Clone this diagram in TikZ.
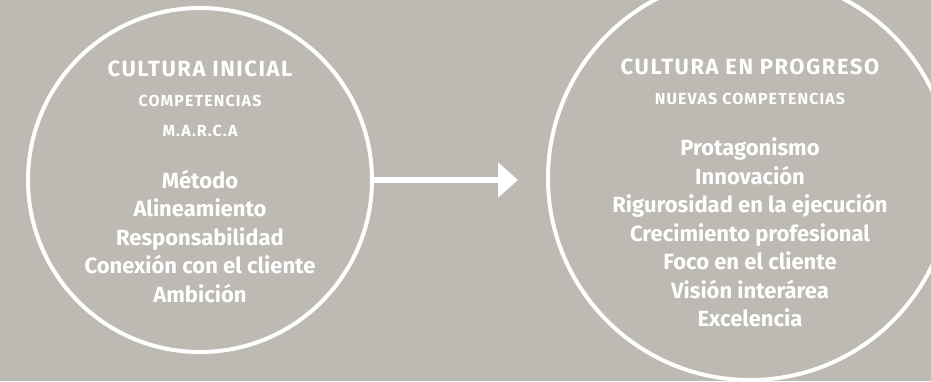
\documentclass[tikz,border=0pt]{standalone}
\usepackage{fontspec}
\setmainfont{Fira Sans}
\usetikzlibrary{arrows.meta}
\definecolor{fondo}{RGB}{189,185,179}
\tikzset{
	anillo/.style={draw=white, line width=4pt, circle, inner sep=0pt, minimum size=#1},
	titulo/.style={anchor=base, text=white, font=\fontsize{22}{22}\selectfont\bfseries\addfontfeature{LetterSpace=7}},
	subtitulo/.style={anchor=base, text=white, font=\fontsize{16}{16}\selectfont\bfseries\addfontfeature{LetterSpace=7}},
	item/.style={anchor=base, text=white, font=\fontsize{22}{22}\selectfont\bfseries}
}

\begin{document}
\begin{tikzpicture}[x=1pt,y=-1pt]
	% Fondo
	\fill[fondo] (0,0) rectangle (931,381);
	\useasboundingbox (0,0) rectangle (931,381);

	% Circulos
	\node[anillo=344pt] (inicial) at (200,180) {};
	\node[anillo=404pt] (progreso) at (750,178) {};

	% Cultura inicial
	\node[titulo] (tini) at (200,76) {CULTURA INICIAL};
	\node[subtitulo] (comp) at (200,106.5) {COMPETENCIAS};
	\node[subtitulo] (marca) at (200,136.5) {M.A.R.C.A};
	\node[item] (metodo) at (200,188) {Método};
	\node[item] (alin) at (200,216.5) {Alineamiento};
	\node[item] (resp) at (200,245) {Responsabilidad};
	\node[item] (conex) at (200,273.5) {Conexión con el cliente};
	\node[item] (ambic) at (200,302) {Ambición};

	% Cultura en progreso
	\node[titulo] (tprog) at (750,74) {CULTURA EN PROGRESO};
	\node[subtitulo] (ncomp) at (750,104.5) {NUEVAS COMPETENCIAS};
	\node[item] (prot) at (750,155) {Protagonismo};
	\node[item] (innov) at (750,184) {Innovación};
	\node[item] (rigur) at (750,212.5) {Rigurosidad en la ejecución};
	\node[item] (crec) at (750,241) {Crecimiento profesional};
	\node[item] (foco) at (750,269.5) {Foco en el cliente};
	\node[item] (vision) at (750,298) {Visión interárea};
	\node[item] (excel) at (750,326.5) {Excelencia};

	% Flecha
	\coordinate (punta) at (518,180);
	\draw[white, line width=6pt, -{Triangle[width=34pt,length=20pt]}] (inicial.east) -- (punta);
\end{tikzpicture}
\end{document}
